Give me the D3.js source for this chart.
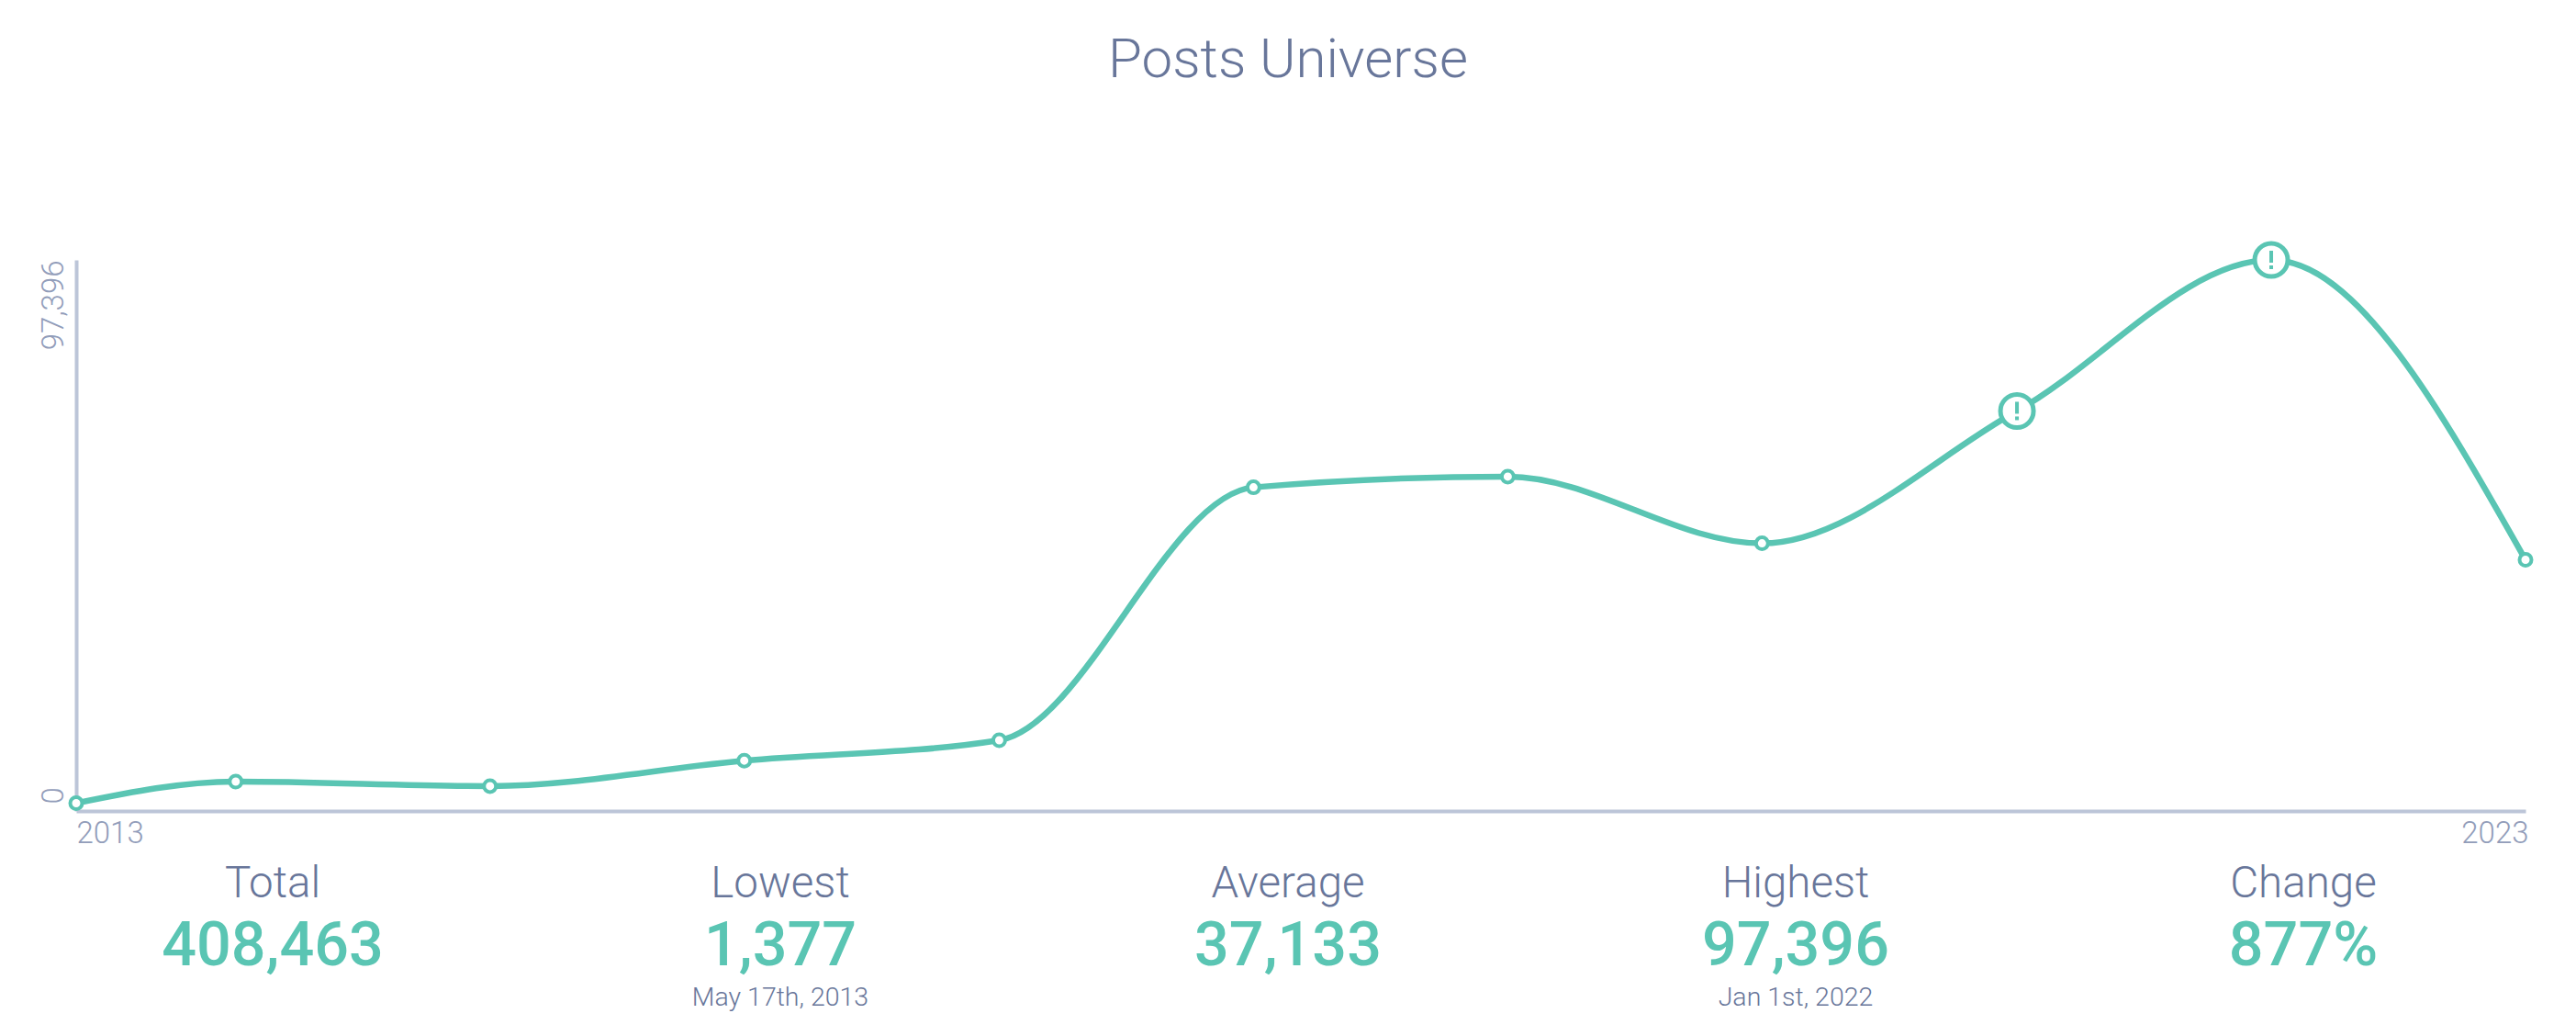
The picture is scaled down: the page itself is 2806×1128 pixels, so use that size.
<!DOCTYPE html>
<html><head><meta charset="utf-8">
<script src="https://cdnjs.cloudflare.com/ajax/libs/d3/7.8.5/d3.min.js"></script>
<style>html,body{margin:0;padding:0;background:#fff}svg{display:block}text{font-family:Roboto,sans-serif}</style>
</head><body><svg id="c" width="2806" height="1128"></svg>
<script>
const dates=["2013-05-17","2014-01-01","2015-01-01","2016-01-01","2017-01-01","2018-01-01","2019-01-01","2020-01-01","2021-01-01","2022-01-01","2023-01-01"];
const values=[1377,5200,4400,8900,12500,57200,59100,47300,70700,97396,44390];
const flagged=["2021-01-01","2022-01-01"];
const xTickLabels=["2013","2023"];
const yTickValues=[0,97396];
const statLabels=["Total","Lowest","Average","Highest","Change"];
const statValues=["408,463","1,377","37,133","97,396","877%"];
const statNotes=["","May 17th, 2013","","Jan 1st, 2022",""];

const W=2806,H=1128,L=83,R=2751,T=283,B=883;
const teal="#5ac5b3",axisC="#bcc5d8",tick="#929dba",lab="#68769a";
const parse=d3.utcParse("%Y-%m-%d");
const svg=d3.select("#c");
const x=d3.scaleUtc().domain([parse(dates[0]),parse(dates[dates.length-1])]).range([L,R]);
const y=d3.scaleLinear().domain([0,97396]).range([B,T]);

svg.append("text").attr("x",W/2).attr("y",84).attr("text-anchor","middle")
  .attr("font-size",60).attr("font-weight",300).attr("fill",lab).text("Posts Universe");

const xEnds=x.domain();
const gx=svg.append("g").attr("transform",`translate(0,${B})`)
  .call(d3.axisBottom(x).tickValues(xEnds).tickFormat((d,i)=>xTickLabels[i]).tickSize(0).tickPadding(12));
gx.select(".domain").attr("stroke",axisC).attr("stroke-width",4);
gx.selectAll("text").attr("font-size",33).attr("font-weight",300).attr("fill",tick).attr("font-family","Roboto")
  .attr("text-anchor",(d,i)=>i===0?"start":"end").attr("dx",(d,i)=>i===0?0:3);

const gy=svg.append("g").attr("transform",`translate(${L},0)`)
  .call(d3.axisLeft(y).tickValues(yTickValues).tickFormat(d3.format(",")).tickSize(0).tickPadding(0));
gy.select(".domain").attr("stroke",axisC).attr("stroke-width",4);
gy.selectAll("text").attr("font-size",33).attr("font-weight",300).attr("fill",tick).attr("font-family","Roboto")
  .attr("dy",0).attr("text-anchor",d=>d===0?"start":"end")
  .attr("transform",d=>`translate(-14,${d===0?-8:0}) rotate(-90)`).attr("x",0).attr("y",0);

const pts=dates.map((d,i)=>({key:d,date:parse(d),v:values[i]}));
const line=d3.line().x(d=>x(d.date)).y(d=>y(d.v)).curve(d3.curveMonotoneX);
svg.append("path").attr("d",line(pts)).attr("fill","none").attr("stroke",teal).attr("stroke-width",6.5);

svg.append("g").selectAll("circle").data(pts.filter(d=>!flagged.includes(d.key))).join("circle")
  .attr("cx",d=>x(d.date)).attr("cy",d=>y(d.v)).attr("r",6.5).attr("fill","#fff").attr("stroke",teal).attr("stroke-width",4);

const fg=svg.append("g").selectAll("g").data(pts.filter(d=>flagged.includes(d.key))).join("g")
  .attr("transform",d=>`translate(${x(d.date)},${y(d.v)})`);
fg.append("circle").attr("r",18).attr("fill","#fff").attr("stroke",teal).attr("stroke-width",5);
fg.append("rect").attr("x",-2).attr("y",-10).attr("width",4).attr("height",13).attr("fill",teal);
fg.append("rect").attr("x",-2).attr("y",6).attr("width",4).attr("height",4).attr("fill",teal);

const sx=d3.scalePoint().domain(statLabels).range([297,2509]);
const s=svg.append("g").selectAll("g").data(statLabels).join("g").attr("transform",d=>`translate(${sx(d)},0)`).attr("text-anchor","middle");
s.append("text").attr("y",977).attr("font-size",47.5).attr("font-weight",300).attr("fill",lab).text(d=>d);
s.append("text").attr("y",1051).attr("font-size",66.5).attr("font-weight",500).attr("fill",teal).text((d,i)=>statValues[i]);
s.append("text").attr("y",1095).attr("font-size",28.5).attr("font-weight",300).attr("fill",lab).text((d,i)=>statNotes[i]);
</script></body></html>
